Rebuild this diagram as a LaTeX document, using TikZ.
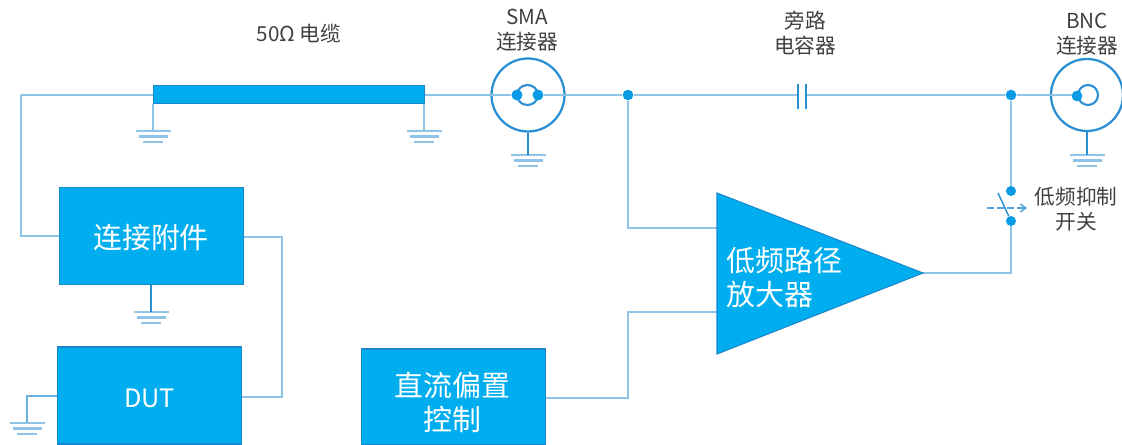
\documentclass[tikz,border=0pt]{standalone}
\usepackage{fontspec}
\setmainfont{Noto Sans CJK SC}[Scale=1]
\usetikzlibrary{arrows.meta,calc}
\definecolor{fillblue}{HTML}{00AEEF}
\definecolor{edgeblue}{HTML}{1A86CC}
\definecolor{wireblue}{HTML}{8FC3E8}
\definecolor{ringblue}{HTML}{2B8FD3}
\definecolor{dotblue}{HTML}{0A9BE6}
\definecolor{labelgrey}{HTML}{404040}
\tikzset{
  x=0.75pt,y=-0.75pt,
  wire/.style={draw=wireblue,line width=1.8pt},
  ring/.style={draw=ringblue,line width=1.7pt,fill=none,circle,inner sep=0pt},
  block/.style={draw=edgeblue,line width=1pt,fill=fillblue,inner sep=0pt},
  blocktext/.style={inner sep=0pt,text=white,font=\fontsize{21.7}{25.5}\selectfont,align=center},
  label/.style={inner sep=0pt,text=labelgrey,font=\fontsize{15.5}{19}\selectfont,align=center},
  dotnode/.style={circle,fill=dotblue,draw=none,minimum size=8pt,inner sep=0pt},
  gndline/.style={draw=wireblue,line width=1.6pt},
}
\newcommand{\gnd}[3]{% name, x, y (top bar)
  \coordinate (#1) at (#2,#3);
  \draw[gndline] ($(#1)+(-17.5,0)$) -- ($(#1)+(17.5,0)$);
  \draw[gndline] ($(#1)+(-14.5,5.5)$) -- ($(#1)+(14.5,5.5)$);
  \draw[gndline] ($(#1)+(-10,11)$) -- ($(#1)+(10,11)$);
}
\begin{document}
\begin{tikzpicture}
\useasboundingbox (0,0) rectangle (1122,445);
\coordinate (start) at (21,95);
\coordinate (cornerR) at (282,237);
\coordinate (cornerS) at (282,397);
\coordinate (ampIn1) at (717,228);
\coordinate (ampIn2) at (717,312);
\coordinate (bendA) at (628,312);
\coordinate (bendB) at (628,398);
\coordinate (capL) at (798,95);
\coordinate (capR) at (806,95);
\coordinate (ampOut) at (923,273);
\coordinate (swBend) at (1011,273);
\coordinate (dutLeft) at (27,396);

\node[block,minimum width=271*0.75pt,minimum height=18*0.75pt] (cable) at (289,94.5) {};
\node[block,minimum width=184*0.75pt,minimum height=97*0.75pt] (fixture) at (151.5,236) {};
\node[block,minimum width=184*0.75pt,minimum height=97*0.75pt] (dut) at (149.5,395.5) {};
\node[block,minimum width=184*0.75pt,minimum height=96*0.75pt] (bias) at (453.5,397) {};
\node[blocktext] (fixtureText) at (151,238) {连接附件};
\node[blocktext,font=\fontsize{19}{24}\selectfont] (dutText) at (149.5,398.5) {DUT};
\node[blocktext] (biasText) at (452.5,402.5) {直流偏置\\控制};
\node[ring,minimum size=73*0.75pt] (sma) at (528,95) {};
\node[ring,minimum size=72*0.75pt] (bnc) at (1087,95) {};
\node[dotnode] (j1) at (628,95) {};
\node[dotnode] (j2) at (1011,95) {};
\node[dotnode,minimum size=7.5pt] (s1) at (1011,191) {};
\node[dotnode,minimum size=7.5pt] (s2) at (1011,221) {};
\node[dotnode] (sa) at (517,95) {};
\node[dotnode] (sb) at (538,95) {};

\draw[wire] (start) -- (start |- fixture.west) -- (fixture.west);
\draw[wire] (start) -- (cable.west |- start);
\draw[wire] (cable.east |- start) -- (sa);
\draw[wire] (sb) -- (j1) -- (capL);
\draw[wire] (capR) -- (j2) -- (bnc.west);
\draw[wire] (j2) -- (s1);
\draw[wire] (s2) -- (swBend) -- (ampOut);
\draw[wire] (j1) -- (j1 |- ampIn1) -- (ampIn1);
\draw[wire] (ampIn2) -- (bendA) -- (bendB) -- (bias.east |- bendB);
\draw[wire] (fixture.east |- cornerR) -- (cornerR) -- (cornerS) -- (dut.east |- cornerS);

% triangle amplifier
\draw[draw=edgeblue,line width=0.8pt,fill=fillblue] (717,193) -- (717,354) -- (923,273) -- cycle;
\node[inner sep=0pt,anchor=west,text=white,font=\fontsize{21.7}{26}\selectfont,align=left] (amp) at (726,277.5) {低频路径\\放大器};

% capacitor
\draw[draw=ringblue,line width=1.3pt] (798,84) -- (798,109);
\draw[draw=ringblue,line width=1.3pt] (806,84) -- (806,109);

% connectors
\draw[draw=ringblue,line width=1.6pt] (527.5,95) ellipse (10.5 and 10);
\node[dotnode] (sa2) at (sa) {};
\node[dotnode] (sb2) at (sb) {};
\draw[wire] (bnc.west) -- (1077,95);
\draw[draw=ringblue,line width=1.6pt] (1088,95) circle (10);
\node[dotnode] (ba) at (1077,96) {};

% grounds
\gnd{g1}{153}{131}
\gnd{g2}{424}{131}
\gnd{g3}{528}{155}
\gnd{g4}{1087}{155}
\gnd{g5}{151}{312}
\gnd{g6}{27}{423}
\draw[wire] (g1 |- cable.south) -- (g1);
\draw[wire] (g2 |- cable.south) -- (g2);
\draw[draw=ringblue,line width=1.3pt] (sma.south) -- (g3);
\draw[draw=ringblue,line width=1.3pt] (bnc.south) -- (g4);
\draw[draw=ringblue,line width=1.2pt] (fixture.south -| g5) -- (g5);
\draw[draw=ringblue!70,line width=1.2pt] (dut.west |- dutLeft) -- (dutLeft) -- (g6);

% switch
\draw[draw=ringblue,line width=1.1pt] (s2) -- (998,193);
\draw[draw=ringblue!80,line width=1.1pt,dash pattern=on 5pt off 2.5pt,-{Straight Barb[length=4pt,width=6pt]}] (987,208) -- (1027,208);

% labels
\node[label] (l1) at (299,34) {50Ω 电缆};
\node[label] (l2) at (527,30) {SMA\\连接器};
\node[label] (l3) at (805,33) {旁路\\电容器};
\node[label] (l4) at (1087,34) {BNC\\连接器};
\node[label] (l5) at (1076,209.5) {低频抑制\\开关};
\end{tikzpicture}
\end{document}
